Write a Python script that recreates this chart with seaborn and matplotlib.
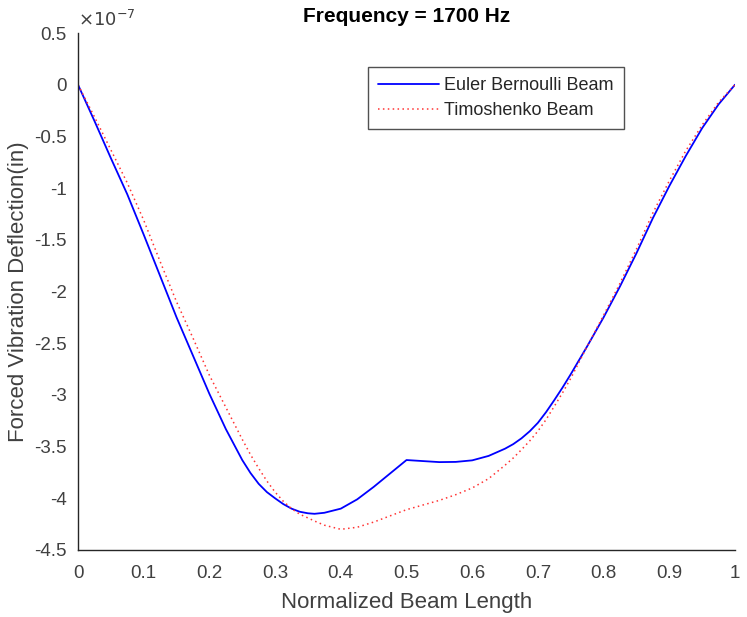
import numpy as np
import pandas as pd
import matplotlib
matplotlib.use("Agg")
import matplotlib.pyplot as plt
import seaborn as sns
from matplotlib.ticker import FuncFormatter, FixedLocator

# Data (deflection in units of 1e-7 in)
x_pos = [0, 0.025, 0.05, 0.075, 0.1, 0.125, 0.15, 0.175, 0.2, 0.225, 0.25, 0.2625, 0.275,
         0.2875, 0.3, 0.3125, 0.325, 0.3375, 0.35, 0.36, 0.375, 0.4, 0.425, 0.45, 0.475,
         0.5, 0.525, 0.55, 0.575, 0.6, 0.625, 0.65, 0.6625, 0.675, 0.6875, 0.7, 0.7125,
         0.725, 0.7375, 0.75, 0.775, 0.8, 0.825, 0.85, 0.875, 0.9, 0.925, 0.95, 0.975, 1.0]
euler = [0, -0.35, -0.71, -1.06, -1.45, -1.85, -2.25, -2.62, -2.99, -3.33, -3.63, -3.755, -3.86,
         -3.94, -4.00, -4.056, -4.10, -4.13, -4.145, -4.15, -4.14, -4.10, -4.01, -3.89, -3.76,
         -3.63, -3.64, -3.65, -3.648, -3.633, -3.59, -3.52, -3.476, -3.42, -3.352, -3.27, -3.166,
         -3.05, -2.929, -2.80, -2.53, -2.25, -1.95, -1.63, -1.29, -0.98, -0.69, -0.42, -0.19, 0]
timo = [0, -0.31, -0.63, -0.95, -1.31, -1.71, -2.10, -2.45, -2.81, -3.12, -3.43, -3.577, -3.71,
        -3.833, -3.94, -4.029, -4.10, -4.154, -4.19, -4.22, -4.26, -4.30, -4.28, -4.23, -4.17,
        -4.11, -4.065, -4.02, -3.965, -3.90, -3.81, -3.68, -3.61, -3.53, -3.445, -3.35, -3.238,
        -3.11, -2.98, -2.84, -2.53, -2.23, -1.92, -1.59, -1.24, -0.93, -0.64, -0.39, -0.17, 0]
scale = 1e-7
x_ticks = [0, 0.1, 0.2, 0.3, 0.4, 0.5, 0.6, 0.7, 0.8, 0.9, 1]
y_ticks = [-4.5, -4, -3.5, -3, -2.5, -2, -1.5, -1, -0.5, 0, 0.5]
series_names = ["Euler Bernoulli Beam", "Timoshenko Beam"]
title = "Frequency = 1700 Hz"
xlabel = "Normalized Beam Length"
ylabel = "Forced Vibration Deflection(in)"

sns.set_style("white")
plt.rcParams['font.family'] = ['Liberation Sans', 'DejaVu Sans']
plt.rcParams['axes.unicode_minus'] = False

df = pd.DataFrame({
    "x": x_pos * 2,
    "y": [v * scale for v in euler] + [v * scale for v in timo],
    "series": [series_names[0]] * len(x_pos) + [series_names[1]] * len(x_pos),
})

fig = plt.figure(figsize=(7.47, 6.17), dpi=100)
ax = fig.add_axes([78/747, 1 - 550/617, (735-78)/747, (550-33)/617])

sns.lineplot(data=df[df.series == series_names[0]], x="x", y="y", ax=ax,
             color=(0, 0, 1), lw=1.3, label=series_names[0], sort=False)
sns.lineplot(data=df[df.series == series_names[1]], x="x", y="y", ax=ax,
             color=(1, 0.2, 0.2), lw=1.1, ls=(0, (1, 2.2)), label=series_names[1], sort=False)

ax.set_xlim(0, 1)
ax.set_ylim(-4.5 * scale, 0.5 * scale)
ax.xaxis.set_major_locator(FixedLocator(x_ticks))
ax.yaxis.set_major_locator(FixedLocator([v * scale for v in y_ticks]))
ax.xaxis.set_major_formatter(FuncFormatter(lambda v, p: f"{v:g}"))
ax.yaxis.set_major_formatter(FuncFormatter(lambda v, p: f"{round(v / scale, 2):g}"))

tick_col = "#262626"
for s in ["top", "right"]:
    ax.spines[s].set_visible(False)
for s in ["left", "bottom"]:
    ax.spines[s].set_color(tick_col)
    ax.spines[s].set_linewidth(1.0)
ax.tick_params(direction="in", length=5, width=1, colors=tick_col, labelsize=13.5,
               labelcolor="#404040")
ax.tick_params(axis="x", pad=11)
ax.tick_params(axis="y", pad=8)

ax.set_xlabel(xlabel, fontsize=16, color="#404040", labelpad=7)
ax.set_ylabel(ylabel, fontsize=16, color="#404040", labelpad=4)
ax.set_title(title, fontsize=15, fontweight="bold", color="black", pad=8)

ax.text(0.0, 1.005, r"$\times10^{-7}$", transform=ax.transAxes, fontsize=13,
        color="#404040", ha="left", va="bottom")

leg = ax.legend(loc="upper left", bbox_to_anchor=(0.441, 0.934), fontsize=13,
                frameon=True, fancybox=False, edgecolor="#262626", borderpad=0.55,
                handlelength=3.4, handletextpad=0.3, labelspacing=0.45, borderaxespad=0)
leg.get_frame().set_linewidth(1.0)

fig.savefig("out.png", dpi=100)
